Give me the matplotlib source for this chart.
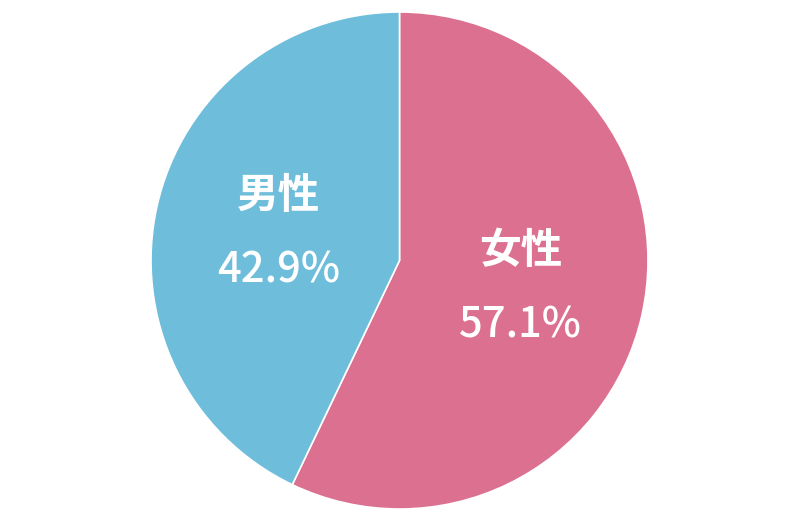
import numpy as np
import matplotlib
matplotlib.use('Agg')
import matplotlib.pyplot as plt

# data
labels = ['女性', '男性']
values = [57.1, 42.9]
colors = ['#DB7090', '#6EBEDB']

plt.rcParams['font.family'] = ['Noto Sans CJK JP', 'DejaVu Sans']

fig = plt.figure(figsize=(8, 5.23), dpi=100)
ax = fig.add_axes([151 / 800, 14 / 523, 497 / 800, 497 / 523])

wedges, _ = ax.pie(values, colors=colors, startangle=90, counterclock=False,
                   wedgeprops=dict(edgecolor='white', linewidth=1.2))

# label + percentage centred at half radius along each wedge's middle angle
for w, lab, val in zip(wedges, labels, values):
    mid = np.deg2rad((w.theta1 + w.theta2) / 2)
    x, y = 0.5 * np.cos(mid), 0.5 * np.sin(mid)
    ax.text(x, y + 0.15, lab, ha='center', va='center', color='white',
            fontsize=30, fontweight='bold')
    ax.text(x, y - 0.15, f'{val:.1f}%', ha='center', va='center', color='white',
            fontsize=30, fontweight='medium')

ax.set_xlim(-1, 1)
ax.set_ylim(-1, 1)
ax.set_aspect('equal')
ax.axis('off')

fig.savefig('out.png', dpi=100)
